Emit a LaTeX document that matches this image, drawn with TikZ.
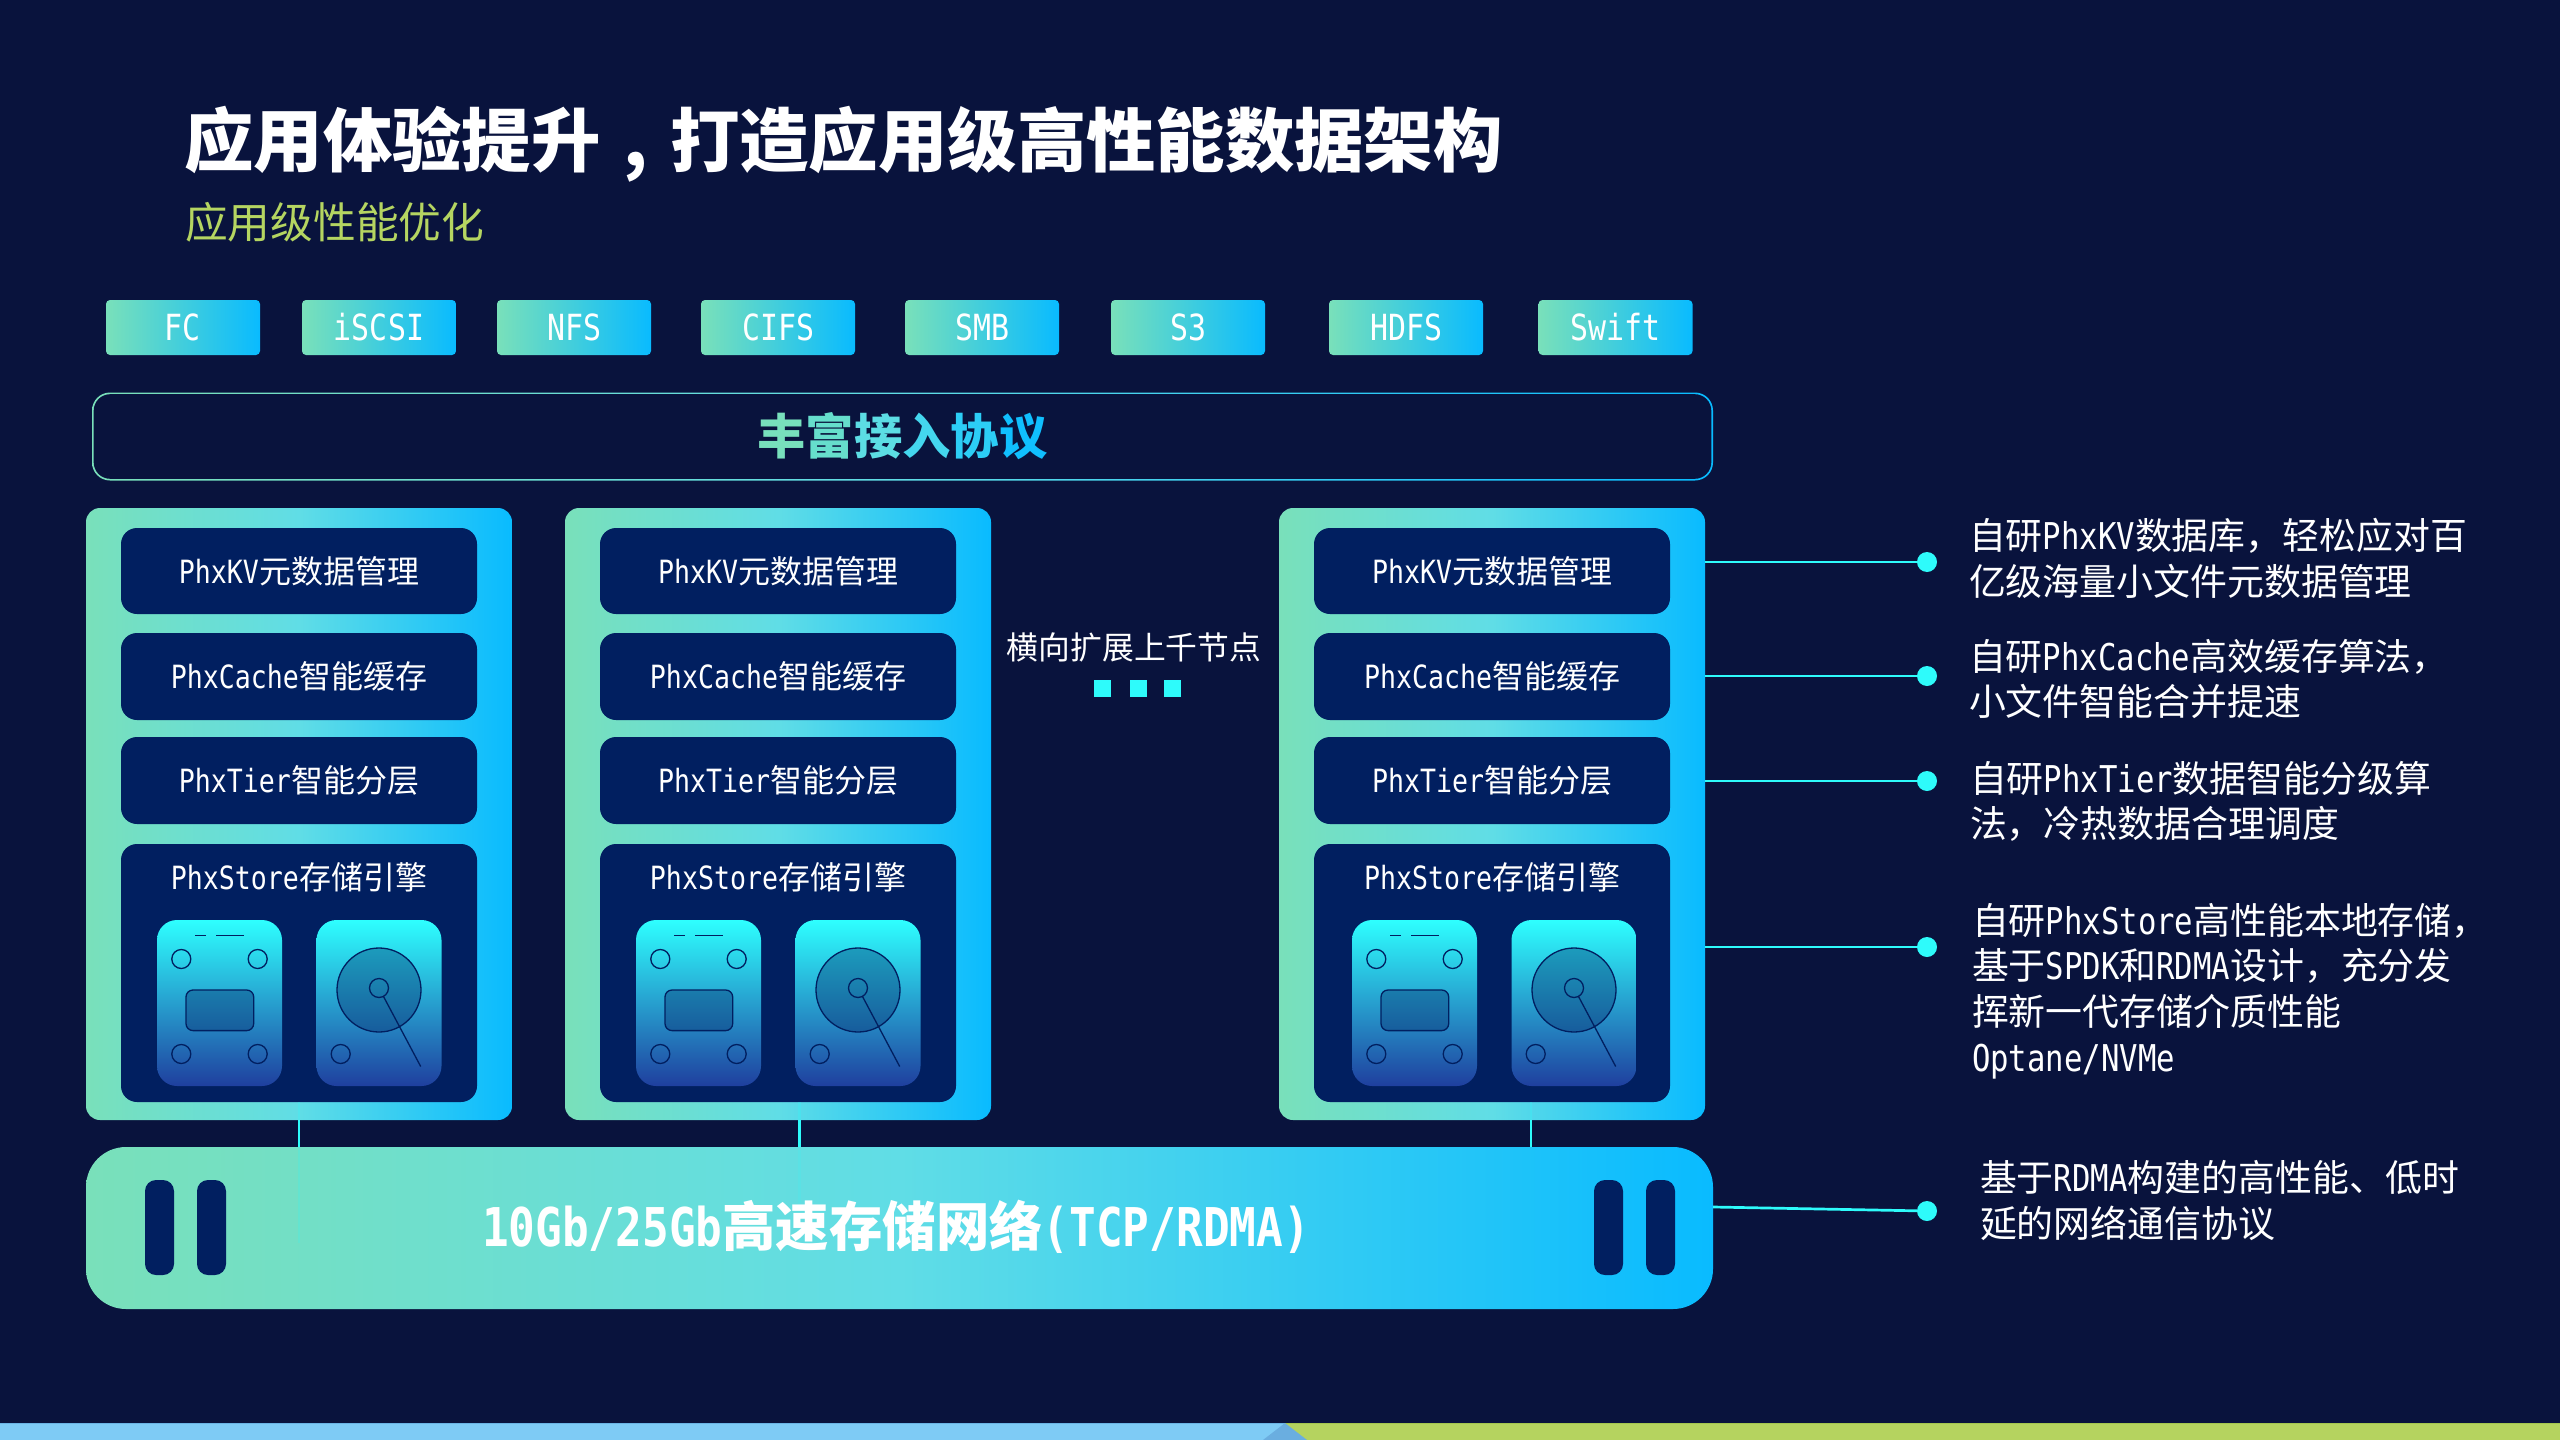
\documentclass[tikz,border=0pt]{standalone}
\usepackage{fontspec}
\setmainfont{Noto Sans CJK SC}
\newfontfamily\latf[FakeStretch=0.8306]{DejaVu Sans Mono}
\newcommand{\LT}[1]{{\latf #1}}
\newcommand{\fs}[2]{\fontsize{#1}{#2}\selectfont}
\newcommand{\wcm}{\char"FF0C\relax}
\definecolor{bgc}{HTML}{09133D}
\definecolor{cA}{HTML}{79E0BA}
\definecolor{cM}{HTML}{60DDE6}
\definecolor{cB}{HTML}{09BBFF}
\definecolor{navy}{HTML}{011F60}
\definecolor{cyanl}{HTML}{2EFBFB}
\definecolor{icT}{HTML}{2EFFFF}
\definecolor{icB}{HTML}{1F3F9E}
\definecolor{bandB}{HTML}{7ECBF5}
\definecolor{bandBd}{HTML}{6AB4E4}
\definecolor{bandG}{HTML}{B5D35F}
\definecolor{bandGd}{HTML}{A3C64E}
\definecolor{triC}{HTML}{6AAEE0}
\definecolor{subc}{HTML}{B5D561}
\pgfdeclarehorizontalshading{gradA}{100bp}{color(0bp)=(cA); color(25bp)=(cA); color(50bp)=(cM); color(75bp)=(cB); color(100bp)=(cB)}
\tikzset{
  box/.style={inner sep=0pt,outer sep=0pt,align=center,text=white},
  panel/.style={box,shade,shading=gradA,rounded corners=14pt,minimum width=426pt,minimum height=612pt},
  chip/.style={box,left color=cA,right color=cB,rounded corners=4pt,minimum width=154pt,minimum height=55pt,font=\fs{36}{40}},
  row/.style={box,fill=navy,rounded corners=16pt,minimum width=356pt,font=\fs{32}{38}},
  icon/.style={box,top color=icT,bottom color=icB,rounded corners=20pt,minimum width=125pt,minimum height=166pt},
  hole/.style={circle,draw=navy,line width=1.3pt,minimum size=19pt,inner sep=0pt,outer sep=0pt},
  pill/.style={box,fill=navy,rounded corners=11pt,minimum width=29pt,minimum height=95pt},
  conn/.style={draw=cyanl,line width=2.7pt},
  dot/.style={circle,fill=cyanl,minimum size=20pt,inner sep=0pt,outer sep=0pt},
  note/.style={inner sep=0pt,outer sep=0pt,anchor=west,align=left,text=white,font=\fs{36.9}{45.6}},
  sq/.style={fill=cyanl,inner sep=0pt,outer sep=0pt,minimum size=17pt},
}
\begin{document}
\begin{tikzpicture}[x=1pt,y=-1pt]
\useasboundingbox (0,0) rectangle (2560,1440);
\fill[bgc] (0,0) rectangle (2560,1440);
% bottom band
\fill[bandB] (0,1423) rectangle (1285,1440);
\fill[bandG] (1285,1423) rectangle (2560,1440);
\fill[bandBd] (0,1423) rectangle (1285,1424);
\fill[bandGd] (1285,1423) rectangle (2560,1424);
\fill[triC] (1263,1440) -- (1285,1423) -- (1307,1440) -- cycle;
% titles
\node[inner sep=0pt,anchor=west,text=white,font=\fs{69.4}{72}\bfseries] (title) at (184,144) {应用体验提升\makebox[1em]{,}打造应用级高性能数据架构};
\node[inner sep=0pt,anchor=west,text=subc,font=\fs{42.7}{46}] (subtitle) at (185,222) {应用级性能优化};
% protocol chips
\foreach \n/\cx/\t in {a/183/FC,b/379/iSCSI,c/574/NFS,d/778/CIFS,e/982/SMB,f/1188/S3,g/1406/HDFS,h/1615.5/Swift}
  \node[chip] (chip\n) at (\cx,327.5) {\LT{\t}};
% protocol outline
\node[box,shade,shading=gradA,rounded corners=18pt,minimum width=1621pt,minimum height=88pt] (protoOuter) at (902.5,436.5) {};
\node[box,fill=bgc,rounded corners=16.5pt,minimum width=1617.6pt,minimum height=84.6pt] (proto) at (902.5,436.5) {};
\node[inner sep=0pt,font=\fs{48.3}{50}\bfseries] (protoText) at (902.5,436) {\textcolor[HTML]{78E0BC}{丰}\textcolor[HTML]{66DECC}{富}\textcolor[HTML]{5CDDE4}{接}\textcolor[HTML]{44D6EE}{入}\textcolor[HTML]{2CCDF6}{协}\textcolor[HTML]{10BFFF}{议}};
% panels
\foreach \i/\dx/\ex in {1/0/0,2/479/0,3/1193/2}{
\begin{scope}[xshift=\dx pt]
  \node[panel] (panel\i) at (299,814) {};
  \node[row,minimum height=86pt] (kv\i) at (299,571) {\LT{PhxKV}元数据管理};
  \node[row,minimum height=87pt] (cache\i) at (299,676.5) {\LT{PhxCache}智能缓存};
  \node[row,minimum height=87pt] (tier\i) at (299,780.5) {\LT{PhxTier}智能分层};
  \node[row,minimum height=258pt] (store\i) at (299,973) {};
  \node[inner sep=0pt,text=white,font=\fs{32}{38}] (storeT\i) at (299,877) {\LT{PhxStore}存储引擎};
  \begin{scope}[xshift=\ex pt]
  % solid state drive icon
  \node[icon] (ssd\i) at (219.5,1003) {};
  \draw[navy,line width=1.3pt] (195,935.5) -- (206,935.5) (216,935.5) -- (244,935.5);
  \node[hole] (sa\i) at (181.3,959) {};
  \node[hole] (sb\i) at (257.7,959) {};
  \node[hole] (sc\i) at (181.3,1054) {};
  \node[hole] (sd\i) at (257.7,1054) {};
  \draw[navy,line width=1.3pt,fill=navy,fill opacity=.35,rounded corners=7pt] (186,990) rectangle (253.7,1030.6);
  % hard disk icon
  \node[icon] (hdd\i) at (379,1003) {};
  \node[circle,draw=navy,line width=1.3pt,fill=navy,fill opacity=.35,draw opacity=1,minimum size=84pt,inner sep=0pt] (disk\i) at (379,990) {};
  \node[hole] (hub\i) at (379,988) {};
  \coordinate (needle\i) at (420.7,1066.5);
  \draw[navy,line width=1.3pt] (hub\i) -- (needle\i);
  \node[hole] (he\i) at (340.7,1054) {};
  \end{scope}
\end{scope}
}
% scale out label
\node[inner sep=0pt,text=white,font=\fs{31.8}{36}] (scale) at (1134,647) {横向扩展上千节点};
\node[sq] (sq1) at (1102.5,688) {};
\node[sq] (sq2) at (1138,688) {};
\node[sq] (sq3) at (1172,688) {};
% network bar
\node[box,shade,shading=gradA,rounded corners=40pt,minimum width=1627pt,minimum height=162pt] (bar) at (899.5,1228) {};
\node[inner sep=0pt,text=white,font=\fs{53.4}{56}\bfseries] (barT) at (896,1227) {\LT{10Gb/25Gb}高速存储网络\LT{(TCP/RDMA)}};
\node[pill] (pa) at (159.5,1227.5) {};
\node[pill] (pb) at (211.5,1227.5) {};
\node[pill] (pc) at (1608.5,1227.5) {};
\node[pill] (pd) at (1660.5,1227.5) {};
% connectors to bar
\coordinate (tap1) at (299,1120);
\coordinate (tap2) at (799.5,1120);
\coordinate (tap3) at (1531,1120);
\coordinate (faint1) at (299,1243);
\coordinate (faint2) at (799.5,1203);
\foreach \i in {1,2,3}{
  \draw[conn,draw opacity=.25] (tap\i |- store\i.south) -- (tap\i);
  \draw[conn] (tap\i) -- (tap\i |- bar.north);
}
\draw[conn,draw opacity=.2] (tap1 |- bar.north) -- (faint1);
\draw[conn,draw opacity=.15] (tap2 |- bar.north) -- (faint2);
% right side dots and connectors
\node[dot] (d1) at (1927,562) {};
\node[dot] (d2) at (1927,676) {};
\node[dot] (d3) at (1927,781) {};
\node[dot] (d4) at (1927,947) {};
\node[dot] (d5) at (1927,1211) {};
\coordinate (barOut) at (1713,1207);
\draw[conn] (panel3.east |- d1) -- (d1);
\draw[conn] (panel3.east |- d2) -- (d2);
\draw[conn] (panel3.east |- d3) -- (d3);
\draw[conn] (panel3.east |- d4) -- (d4);
\draw[conn] (barOut) -- (d5);
% notes
\node[note] (n1) at (1969,558.5) {自研\LT{PhxKV}数据库\wcm 轻松应对百\\亿级海量小文件元数据管理};
\node[note] (n2) at (1969,679) {自研\LT{PhxCache}高效缓存算法\wcm\\小文件智能合并提速};
\node[note] (n3) at (1970,801.5) {自研\LT{PhxTier}数据智能分级算\\法\wcm 冷热数据合理调度};
\node[note] (n4) at (1972,991) {自研\LT{PhxStore}高性能本地存储\wcm\\基于\LT{SPDK}和\LT{RDMA}设计\wcm 充分发\\挥新一代存储介质性能\\\LT{Optane/NVMe}};
\node[note] (n5) at (1980,1200.5) {基于\LT{RDMA}构建的高性能、低时\\延的网络通信协议};
\end{tikzpicture}
\end{document}
